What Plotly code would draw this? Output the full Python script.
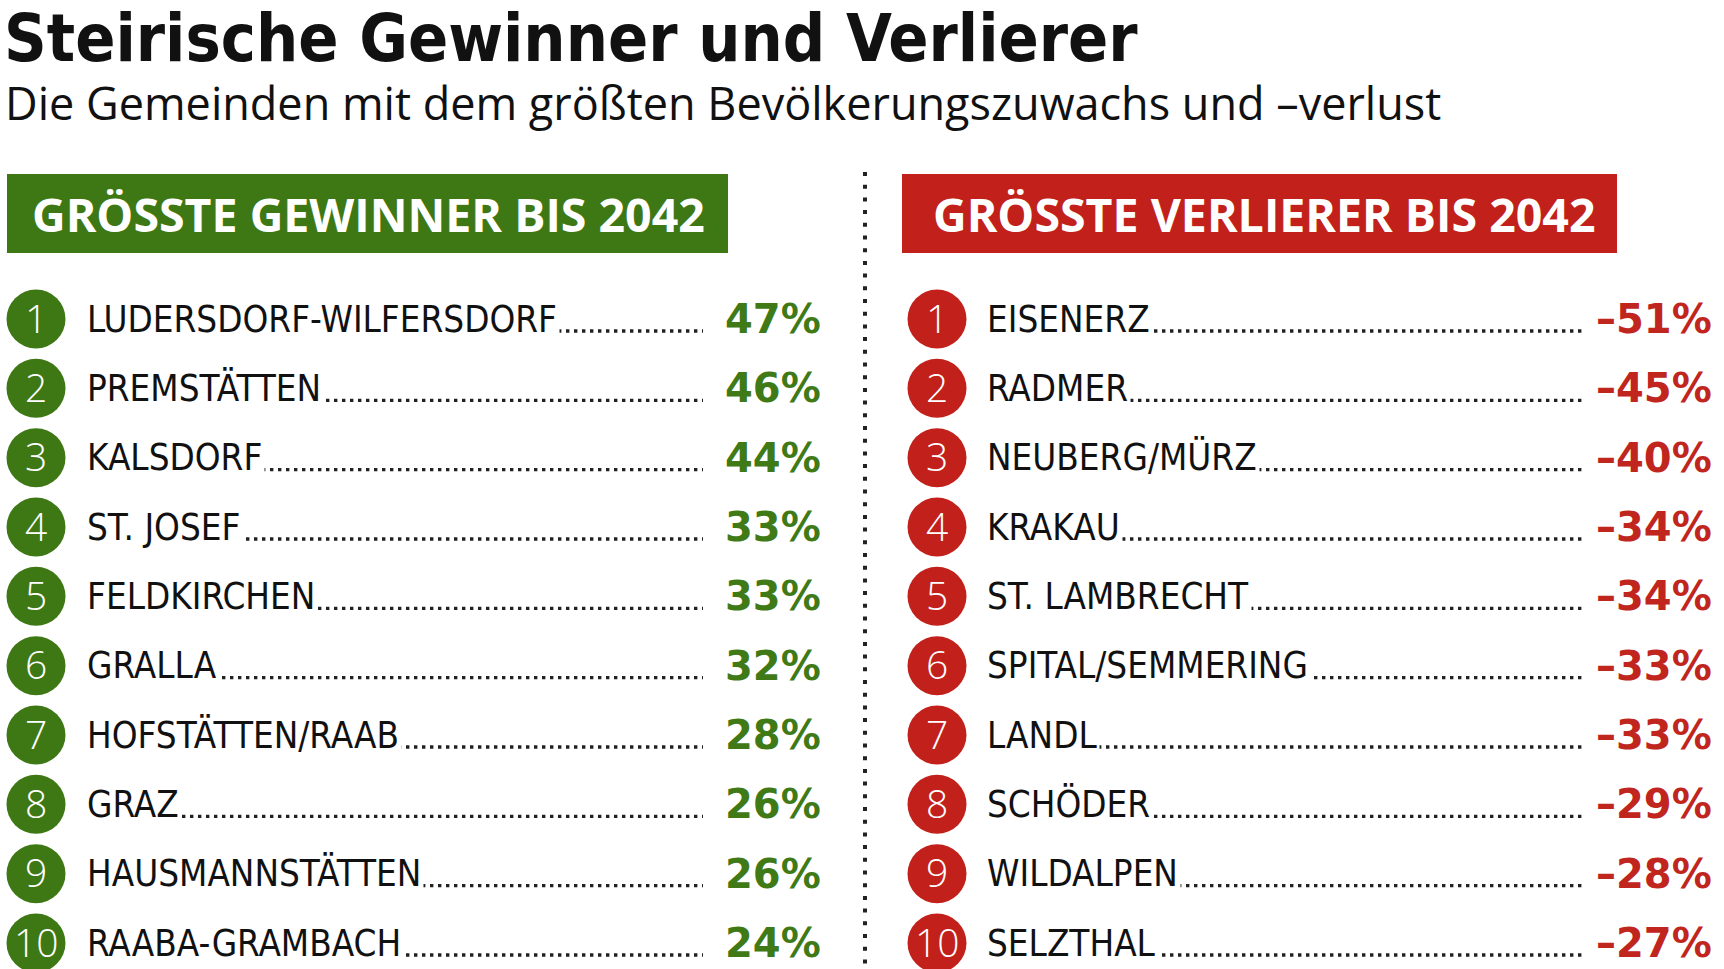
import plotly.graph_objects as go

W, H = 1724, 969

TITLE = "Steirische Gewinner und Verlierer"
SUBTITLE = "Die Gemeinden mit dem größten Bevölkerungszuwachs und –verlust"
HEAD_WIN = "GRÖSSTE GEWINNER BIS 2042"
HEAD_LOSE = "GRÖSSTE VERLIERER BIS 2042"

ranks = [1, 2, 3, 4, 5, 6, 7, 8, 9, 10]
winners = ["LUDERSDORF-WILFERSDORF", "PREMSTÄTTEN", "KALSDORF", "ST. JOSEF",
           "FELDKIRCHEN", "GRALLA", "HOFSTÄTTEN/RAAB", "GRAZ",
           "HAUSMANNSTÄTTEN", "RAABA-GRAMBACH"]
winner_pct = [47, 46, 44, 33, 33, 32, 28, 26, 26, 24]
losers = ["EISENERZ", "RADMER", "NEUBERG/MÜRZ", "KRAKAU", "ST. LAMBRECHT",
          "SPITAL/SEMMERING", "LANDL", "SCHÖDER", "WILDALPEN", "SELZTHAL"]
loser_pct = [-51, -45, -40, -34, -34, -33, -33, -29, -28, -27]

GREEN = "#3e7815"
RED = "#c2201a"
GREEN_TXT = "#3f7a17"
RED_TXT = "#c0261e"

NARROW = "Liberation Sans Narrow, DejaVu Sans Condensed, Arial Narrow, sans-serif"
SANS = "Open Sans, Noto Sans, sans-serif"
HEAVY = "DejaVu Sans, Verdana, sans-serif"

Y0, DY = 319, (943 - 319) / 9


def row_y(r):
    return Y0 + (r - 1) * DY


fig = go.Figure()
shapes = []
annotations = []

# title & subtitle
annotations.append(dict(x=2, y=38, text=TITLE, xanchor="left", yanchor="middle",
                        showarrow=False, font=dict(family=NARROW, size=66, color="#111111", weight="bold")))
annotations.append(dict(x=3, y=102, text=SUBTITLE, xanchor="left", yanchor="middle",
                        showarrow=False, font=dict(family=SANS, size=45, color="#111111")))

panels = [
    dict(x0=7, x1=728, color=GREEN, txtcolor=GREEN_TXT, head=HEAD_WIN, tx=30,
         names=winners, vals=winner_pct, cx=36, nx=84, dots_end=703, px=723),
    dict(x0=902, x1=1617, color=RED, txtcolor=RED_TXT, head=HEAD_LOSE, tx=931,
         names=losers, vals=loser_pct, cx=937, nx=984, dots_end=1583, px=1594),
]

for p in panels:
    shapes.append(dict(type="rect", xref="x", yref="y", x0=p["x0"], x1=p["x1"], y0=174, y1=253,
                       fillcolor=p["color"], line=dict(width=0), layer="below"))
    annotations.append(dict(x=p["tx"], y=214, text=p["head"], xanchor="left", yanchor="middle",
                            showarrow=False,
                            font=dict(family=SANS, size=46.5, color="#ffffff", weight="bold")))
    ys = [row_y(r) for r in ranks]
    # dotted leaders
    for y in ys:
        shapes.append(dict(type="line", xref="x", yref="y", x0=p["nx"] + 10, x1=p["dots_end"],
                           y0=y + 12, y1=y + 12,
                           line=dict(color="#222222", width=3.4, dash="3.4px,4.6px")))
    # circles
    fig.add_trace(go.Scatter(
        x=[p["cx"]] * len(ranks), y=ys, mode="markers",
        marker=dict(size=59, color=p["color"], line=dict(width=0)),
        hoverinfo="skip", showlegend=False))
    for r, name, v in zip(ranks, p["names"], p["vals"]):
        y = row_y(r)
        annotations.append(dict(x=p["cx"], y=y - 2, text=str(r), xanchor="center", yanchor="middle",
                                showarrow=False,
                                font=dict(family=SANS, size=39, color="#ffffff", weight=300)))
        annotations.append(dict(x=p["nx"], y=y, text=name, xanchor="left", yanchor="middle",
                                showarrow=False, bgcolor="#ffffff", borderpad=2,
                                font=dict(family=NARROW, size=36.5, color="#111111")))
        label = f"{v}%" if v >= 0 else f"–{abs(v)}%"
        annotations.append(dict(x=p["px"], y=y, text=label, xanchor="left", yanchor="middle",
                                showarrow=False,
                                font=dict(family=HEAVY, size=40, color=p["txtcolor"], weight="bold")))

# vertical dotted divider
shapes.append(dict(type="line", xref="x", yref="y", x0=865, x1=865, y0=172, y1=969,
                   line=dict(color="#222222", width=4, dash="4px,8.7px")))

fig.update_layout(
    width=W, height=H, margin=dict(l=0, r=0, t=0, b=0),
    paper_bgcolor="#ffffff", plot_bgcolor="#ffffff",
    xaxis=dict(range=[0, W], visible=False, fixedrange=True),
    yaxis=dict(range=[H, 0], visible=False, fixedrange=True),
    shapes=shapes, annotations=annotations, showlegend=False,
)

fig.write_html("out.html", config={"displayModeBar": False},
               post_script="document.body.style.margin='0px';document.body.style.overflow='hidden';")
